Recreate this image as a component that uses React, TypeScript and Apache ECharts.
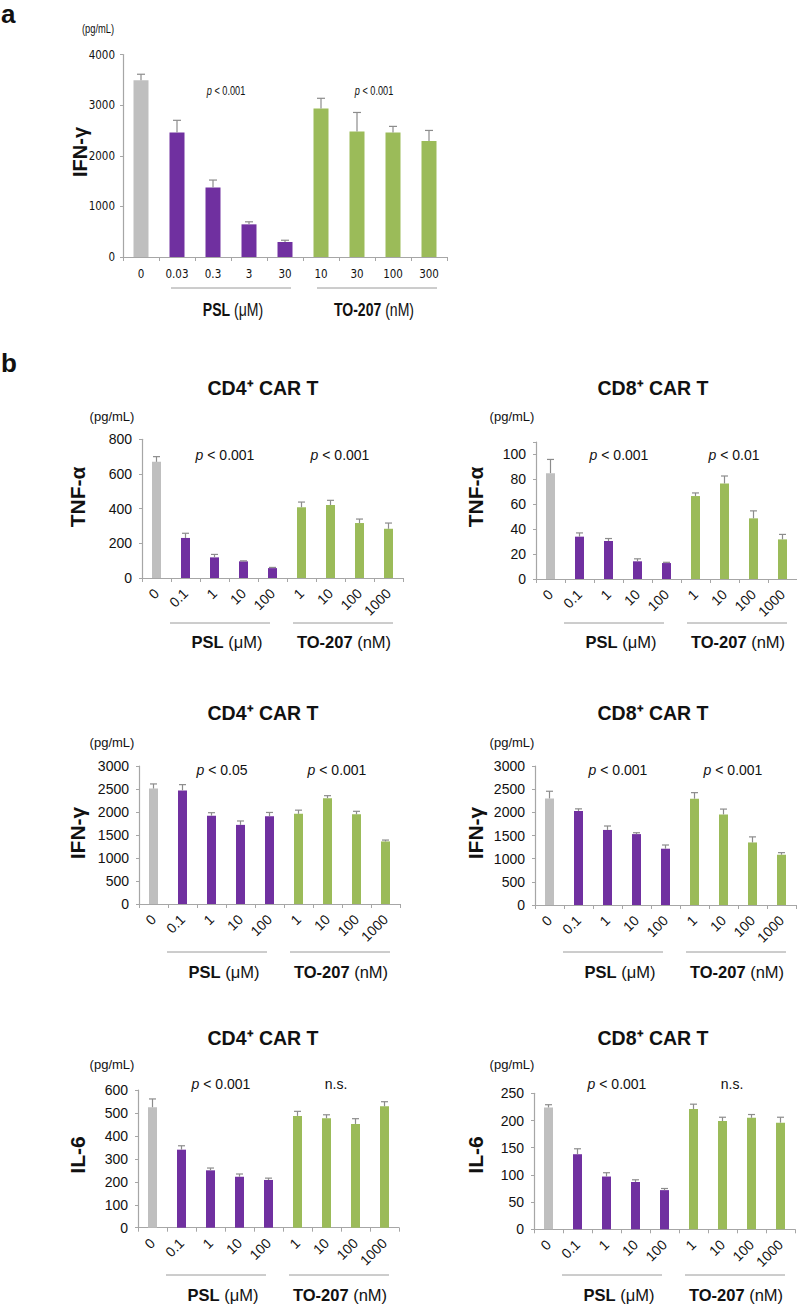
import React, { useEffect, useRef } from 'react';
import * as echarts from 'echarts';

const GRAY = '#BFBFBF';
const PURPLE = '#7030A0';
const GREEN = '#9BBB59';
const ERR = '#8C8C8C';
const AXIS = '#A6A6A6';
const TXT = '#111111';

const FONT = "'Liberation Sans', Arial, Helvetica, sans-serif";
const NARROW = "'Liberation Sans Narrow', 'DejaVu Sans Condensed', 'Liberation Sans', sans-serif";
const SQUEEZE = 0.78;

// Panel a
const catsA = ['0', '0.03', '0.3', '3', '30', '10', '30', '100', '300'];
const ifnA = [3490, 2460, 1375, 645, 296, 2935, 2480, 2460, 2290];
const ifnAErr = [120, 240, 145, 50, 35, 200, 375, 120, 210];

// Panel b
const catsB = ['0', '0.1', '1', '10', '100', '1', '10', '100', '1000'];
const tnfCD4 = [670, 231, 119, 96, 57, 408, 421, 317, 284];
const tnfCD4Err = [30, 27, 17, 3, 4, 30, 27, 23, 33];
const tnfCD8 = [85, 34, 30.5, 14.2, 12.8, 66.6, 76.7, 48.7, 31.8];
const tnfCD8Err = [11, 3, 2, 2, 0.6, 2.5, 6, 6, 4];
const ifnCD4 = [2510, 2470, 1920, 1720, 1910, 1960, 2300, 1950, 1360];
const ifnCD4Err = [100, 125, 65, 85, 80, 80, 55, 65, 30];
const ifnCD8 = [2300, 2030, 1620, 1530, 1215, 2295, 1955, 1350, 1085];
const ifnCD8Err = [155, 45, 85, 30, 80, 130, 115, 120, 45];
const il6CD4 = [525, 340, 250, 222, 208, 487, 477, 452, 529];
const il6CD4Err = [36, 17, 10, 12, 8, 20, 15, 23, 20];
const il6CD8 = [224, 138, 97, 87, 72, 221, 199, 205, 196];
const il6CD8Err = [5, 10, 7, 4, 3, 9, 7, 6, 10];

const barColors = [GRAY, PURPLE, PURPLE, PURPLE, PURPLE, GREEN, GREEN, GREEN, GREEN];

type Panel = {
  left: number; top: number; width: number; height: number;
  max: number; interval: number; cats: string[]; values: number[]; errs: number[];
  barWidth: number; cap: number; font: string; fontSize: number; rotate: number;
  xMargin: number; yMargin: number;
};

const panels: Panel[] = [
  { left: 123, top: 54.5, width: 324, height: 202.5, max: 4000, interval: 1000, cats: catsA, values: ifnA, errs: ifnAErr, barWidth: 15, cap: 4, font: NARROW, fontSize: 11.5, rotate: 0, xMargin: 11, yMargin: 8 },
  { left: 142, top: 439.3, width: 261, height: 138.7, max: 800, interval: 200, cats: catsB, values: tnfCD4, errs: tnfCD4Err, barWidth: 9, cap: 3.5, font: FONT, fontSize: 14, rotate: 45, xMargin: 13, yMargin: 10 },
  { left: 536, top: 442, width: 261, height: 137, max: 110, interval: 20, cats: catsB, values: tnfCD8, errs: tnfCD8Err, barWidth: 9, cap: 3.5, font: FONT, fontSize: 14, rotate: 45, xMargin: 13, yMargin: 10 },
  { left: 139, top: 766, width: 261, height: 138, max: 3000, interval: 500, cats: catsB, values: ifnCD4, errs: ifnCD4Err, barWidth: 9, cap: 3.5, font: FONT, fontSize: 14, rotate: 45, xMargin: 13, yMargin: 10 },
  { left: 535, top: 766, width: 261, height: 139, max: 3000, interval: 500, cats: catsB, values: ifnCD8, errs: ifnCD8Err, barWidth: 9, cap: 3.5, font: FONT, fontSize: 14, rotate: 45, xMargin: 13, yMargin: 10 },
  { left: 138, top: 1090, width: 261, height: 137.7, max: 600, interval: 100, cats: catsB, values: il6CD4, errs: il6CD4Err, barWidth: 9, cap: 3.5, font: FONT, fontSize: 14, rotate: 45, xMargin: 13, yMargin: 10 },
  { left: 534, top: 1093.3, width: 261, height: 136, max: 250, interval: 50, cats: catsB, values: il6CD8, errs: il6CD8Err, barWidth: 9, cap: 3.5, font: FONT, fontSize: 14, rotate: 45, xMargin: 13, yMargin: 10 },
];

function txt(x: number, y: number, text: string, fontSize: number, opts: any = {}) {
  const { rich, rotation, fontWeight, fontFamily, align, scaleX } = opts;
  return {
    type: 'text', x, y, rotation: rotation || 0, scaleX: scaleX || 1, silent: true,
    style: {
      text, fontSize, fontFamily: fontFamily || FONT, fontWeight: fontWeight || 'normal',
      fill: TXT, textAlign: align || 'center', textVerticalAlign: 'middle', rich,
    },
  };
}

function pText(x: number, y: number, t: string, fontSize: number, scaleX = 1) {
  return txt(x, y, t.startsWith('p') ? `{i|p}{n|${t.slice(1)}}` : `{n|${t}}`, fontSize, {
    scaleX,
    rich: {
      i: { fontStyle: 'italic', fontSize, fontFamily: FONT, fill: TXT },
      n: { fontSize, fontFamily: FONT, fill: TXT },
    },
  });
}

function groupText(x: number, y: number, bold: string, rest: string, fontSize: number, scaleX = 1) {
  return txt(x, y, `{b|${bold}}{n|${rest}}`, fontSize, {
    scaleX,
    rich: {
      b: { fontWeight: 'bold', fontSize, fontFamily: FONT, fill: TXT },
      n: { fontSize, fontFamily: FONT, fill: TXT },
    },
  });
}

function hline(x1: number, x2: number, y: number) {
  return { type: 'line', silent: true, shape: { x1, y1: y, x2, y2: y }, style: { stroke: '#9A9A9A', lineWidth: 1 } };
}

export default function App() {
  const ref = useRef<HTMLDivElement>(null);
  useEffect(() => {
    if (!ref.current) return;
    const chart = echarts.init(ref.current, null, { renderer: 'svg' });

    const grid = panels.map((p) => ({ left: p.left, top: p.top, width: p.width, height: p.height, containLabel: false }));
    const xAxis = panels.map((p, i) => ({
      type: 'category', gridIndex: i, data: p.cats,
      axisLine: { lineStyle: { color: AXIS, width: 1.2 } },
      axisTick: { show: true, length: 4, lineStyle: { color: AXIS } },
      axisLabel: { color: TXT, fontSize: p.fontSize, fontFamily: p.font, rotate: p.rotate, margin: p.xMargin, interval: 0 },
    }));
    const yAxis = panels.map((p, i) => ({
      type: 'value', gridIndex: i, min: 0, max: p.max, interval: p.interval,
      axisLine: { show: true, lineStyle: { color: AXIS, width: 1.2 } },
      axisTick: { show: true, length: 3, lineStyle: { color: AXIS } },
      splitLine: { show: false },
      axisLabel: {
        color: TXT, fontSize: p.fontSize, fontFamily: p.font, margin: p.yMargin,
        formatter: (v: number) => (Math.abs(v / p.interval - Math.round(v / p.interval)) < 1e-6 ? String(v) : ''),
      },
    }));
    const series: any[] = [];
    panels.forEach((p, i) => {
      series.push({
        type: 'bar', xAxisIndex: i, yAxisIndex: i, barWidth: p.barWidth,
        data: p.values.map((v, k) => ({ value: v, itemStyle: { color: barColors[k] } })),
      });
      series.push({
        type: 'custom', xAxisIndex: i, yAxisIndex: i, z: 5,
        encode: { x: 0, y: 1 },
        data: p.values.map((v, k) => [k, v, p.errs[k]]),
        renderItem: (params: any, api: any) => {
          const k = api.value(0);
          const v = api.value(1);
          const e = api.value(2);
          const base = api.coord([k, v]);
          const top = api.coord([k, v + e]);
          const st = { stroke: ERR, lineWidth: 1.2 };
          return {
            type: 'group',
            children: [
              { type: 'line', shape: { x1: base[0], y1: base[1], x2: top[0], y2: top[1] }, style: st },
              { type: 'line', shape: { x1: top[0] - p.cap, y1: top[1], x2: top[0] + p.cap, y2: top[1] }, style: st },
            ],
          };
        },
      });
    });

    const graphic: any[] = [];
    // Panel labels
    graphic.push(txt(1, 14, 'a', 26, { fontWeight: 'bold', align: 'left' }));
    graphic.push(txt(1, 363, 'b', 26, { fontWeight: 'bold', align: 'left' }));

    // Panel a texts
    graphic.push(txt(98, 29, '(pg/mL)', 12, { scaleX: SQUEEZE }));
    graphic.push(txt(80, 152, 'IFN-γ', 20, { fontWeight: 'bold', rotation: Math.PI / 2 }));
    graphic.push(pText(226, 90, 'p < 0.001', 13.5, 0.68));
    graphic.push(pText(374, 90, 'p < 0.001', 13.5, 0.68));
    graphic.push(hline(171, 291, 288));
    graphic.push(hline(317, 437, 288));
    graphic.push(groupText(233, 309, 'PSL', ' (μM)', 18, SQUEEZE));
    graphic.push(groupText(374, 309, 'TO-207', ' (nM)', 18, SQUEEZE));

    // Panel b small charts
    const rows = [
      { titleY: 388, unitY: 416, pY: 455, lineY: 623, groupY: 642, nameY: 497, name: 'TNF-α', pL: ['p < 0.001', 'p < 0.001'], pR: ['p < 0.001', 'p < 0.01'] },
      { titleY: 713, unitY: 742, pY: 770, lineY: 952, groupY: 972, nameY: 833, name: 'IFN-γ', pL: ['p < 0.05', 'p < 0.001'], pR: ['p < 0.001', 'p < 0.001'] },
      { titleY: 1038, unitY: 1064, pY: 1084, lineY: 1275, groupY: 1295, nameY: 1155, name: 'IL-6', pL: ['p < 0.001', 'n.s.'], pR: ['p < 0.001', 'n.s.'] },
    ];
    const cols = [
      { titleX: 263, unitX: 112, nameX: 77, axisIdx: [1, 3, 5], title: 'CD4⁺ CAR T', key: 'pL' },
      { titleX: 653, unitX: 512, nameX: 475, axisIdx: [2, 4, 6], title: 'CD8⁺ CAR T', key: 'pR' },
    ];
    rows.forEach((r, ri) => {
      cols.forEach((c) => {
        const p = panels[c.axisIdx[ri]];
        const L = p.left;
        graphic.push(txt(c.titleX, r.titleY, c.title, 19.5, { fontWeight: 'bold' }));
        graphic.push(txt(c.unitX, r.unitY, '(pg/mL)', 13));
        graphic.push(txt(c.nameX, r.nameY, r.name, 21, { fontWeight: 'bold', rotation: Math.PI / 2 }));
        const ps = (r as any)[c.key] as string[];
        graphic.push(pText(L + 83, r.pY, ps[0], 14));
        graphic.push(pText(L + 198, r.pY, ps[1], 14));
        graphic.push(hline(L + 28, L + 128, r.lineY));
        graphic.push(hline(L + 151, L + 251, r.lineY));
        graphic.push(groupText(L + 85, r.groupY, 'PSL', ' (μM)', 16.5));
        graphic.push(groupText(L + 202, r.groupY, 'TO-207', ' (nM)', 16.5));
      });
    });

    chart.setOption({
      animation: false,
      backgroundColor: '#ffffff',
      grid, xAxis, yAxis, series, graphic,
    });
    return () => chart.dispose();
  }, []);
  return <div ref={ref} style={{ position: 'absolute', left: 0, top: 0, width: 797, height: 1304 }} />;
}
